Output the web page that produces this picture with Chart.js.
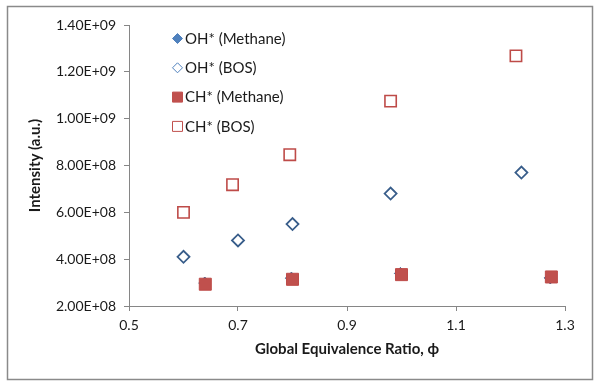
<!DOCTYPE html>
<html>
<head>
<meta charset="utf-8">
<script src="https://cdn.jsdelivr.net/npm/chart.js@4"></script>
<style>
  html, body { margin: 0; padding: 0; background: #fff; }
  #wrap { width: 597px; height: 381px; position: relative; }
</style>
</head>
<body>
<div id="wrap"><canvas id="emission-chart" width="597" height="381"></canvas></div>
<script>
// values
var phiOhMethane = [0.639, 0.798, 0.998, 1.273];
var ohMethane = [2.98e8, 3.19e8, 3.39e8, 3.2e8];
var phiOhBos = [0.60, 0.70, 0.80, 0.98, 1.22];
var ohBos = [4.1e8, 4.8e8, 5.5e8, 6.8e8, 7.7e8];
var phiChMethane = [0.64, 0.80, 1.00, 1.275];
var chMethane = [2.93e8, 3.14e8, 3.34e8, 3.24e8];
var phiChBos = [0.60, 0.69, 0.795, 0.98, 1.21];
var chBos = [6.0e8, 7.18e8, 8.46e8, 1.075e9, 1.268e9];
var xTicks = [0.5, 0.7, 0.9, 1.1, 1.3];
var yTicks = [2e8, 4e8, 6e8, 8e8, 1e9, 1.2e9, 1.4e9];

var BLUE = '#4F81BD', BLUE_EDGE = '#385D8A';
var RED = '#C0504D', RED_EDGE = '#BE4B48';
var FONT = 'Lato, "Liberation Sans", sans-serif';
var TEXT = '#1a1a1a';

function pts(xs, ys) {
  return xs.map(function (x, i) { return { x: x, y: ys[i] }; });
}

function sci(v) {
  var e = Math.floor(Math.log10(v) + 1e-9);
  var m = v / Math.pow(10, e);
  return m.toFixed(2) + 'E+' + (e < 10 ? '0' + e : e);
}

// frame around the whole chart
var framePlugin = {
  id: 'frame',
  beforeDraw: function (chart) {
    var c = chart.ctx;
    c.save();
    c.fillStyle = '#fff';
    c.fillRect(0, 0, chart.width, chart.height);
    c.strokeStyle = '#8a8a8a';
    c.lineWidth = 1.5;
    c.strokeRect(7.5, 6.5, 585, 373);
    c.restore();
  }
};

// legend drawn inside the plot area, top left
var legendPlugin = {
  id: 'insideLegend',
  afterDraw: function (chart) {
    var c = chart.ctx;
    var items = [
      { text: 'OH* (Methane)', style: 'diamond', fill: BLUE, edge: BLUE },
      { text: 'OH* (BOS)', style: 'diamond', fill: null, edge: BLUE },
      { text: 'CH* (Methane)', style: 'square', fill: RED, edge: RED },
      { text: 'CH* (BOS)', style: 'square', fill: null, edge: RED }
    ];
    c.save();
    c.font = '15px ' + FONT;
    c.textBaseline = 'middle';
    items.forEach(function (it, i) {
      var x = 177.5, y = 38.5 + i * 29.3;
      c.beginPath();
      if (it.style === 'diamond') {
        c.moveTo(x, y - 5); c.lineTo(x + 5, y); c.lineTo(x, y + 5); c.lineTo(x - 5, y); c.closePath();
      } else {
        c.rect(x - 5, y - 5, 10, 10);
      }
      if (it.fill) { c.fillStyle = it.fill; c.fill(); }
      c.strokeStyle = it.edge;
      c.lineWidth = 1;
      c.stroke();
      c.fillStyle = TEXT;
      c.fillText(it.text, 185, y + 0.5);
    });
    c.restore();
  }
};

var ctx = document.getElementById('emission-chart').getContext('2d');
var chart = new Chart(ctx, {
  type: 'scatter',
  data: {
    datasets: [
      {
        label: 'OH* (Methane)',
        data: pts(phiOhMethane, ohMethane),
        pointStyle: 'rectRot',
        pointRadius: 6,
        backgroundColor: BLUE,
        borderColor: BLUE_EDGE,
        borderWidth: 1,
        order: 4
      },
      {
        label: 'OH* (BOS)',
        data: pts(phiOhBos, ohBos),
        pointStyle: 'rectRot',
        pointRadius: 6,
        backgroundColor: 'rgba(0,0,0,0)',
        borderColor: BLUE_EDGE,
        borderWidth: 1.8,
        order: 3
      },
      {
        label: 'CH* (Methane)',
        data: pts(phiChMethane, chMethane),
        pointStyle: 'rect',
        pointRadius: 8.5,
        backgroundColor: RED,
        borderColor: RED_EDGE,
        borderWidth: 1,
        order: 2
      },
      {
        label: 'CH* (BOS)',
        data: pts(phiChBos, chBos),
        pointStyle: 'rect',
        pointRadius: 8,
        backgroundColor: 'rgba(0,0,0,0)',
        borderColor: RED_EDGE,
        borderWidth: 1.6,
        order: 1
      }
    ]
  },
  options: {
    responsive: false,
    animation: false,
    layout: { padding: { left: 20, right: 32, top: 25, bottom: 15 } },
    plugins: {
      legend: { display: false },
      tooltip: { enabled: false }
    },
    scales: {
      x: {
        type: 'linear',
        min: xTicks[0],
        max: xTicks[xTicks.length - 1],
        afterBuildTicks: function (scale) {
          scale.ticks = xTicks.map(function (v) { return { value: v }; });
        },
        afterFit: function (scale) { scale.height = 60; },
        grid: { display: true, drawOnChartArea: false, drawTicks: true, tickLength: 5, tickColor: '#868686' },
        border: { display: true, color: '#868686', width: 1 },
        ticks: {
          padding: 6,
          color: TEXT,
          font: { family: FONT, size: 14 },
          maxRotation: 0,
          callback: function (v) { return Number(v).toFixed(1); }
        },
        title: {
          display: true,
          text: 'Global Equivalence Ratio, ϕ',
          color: TEXT,
          font: { family: FONT, size: 15, weight: 'bold' },
          padding: { top: 0, bottom: 8 }
        }
      },
      y: {
        type: 'linear',
        min: yTicks[0],
        max: yTicks[yTicks.length - 1],
        afterBuildTicks: function (scale) {
          scale.ticks = yTicks.map(function (v) { return { value: v }; });
        },
        afterFit: function (scale) { scale.width = 109; },
        grid: { display: true, drawOnChartArea: false, drawTicks: true, tickLength: 5, tickColor: '#868686' },
        border: { display: true, color: '#868686', width: 1 },
        ticks: {
          padding: 8,
          color: TEXT,
          font: { family: FONT, size: 14 },
          callback: function (v) { return sci(v); }
        },
        title: {
          display: true,
          text: 'Intensity (a.u.)',
          color: TEXT,
          font: { family: FONT, size: 15, weight: 'bold' },
          padding: { top: 6, bottom: 0 }
        }
      }
    }
  },
  plugins: [framePlugin, legendPlugin]
});
</script>
</body>
</html>
